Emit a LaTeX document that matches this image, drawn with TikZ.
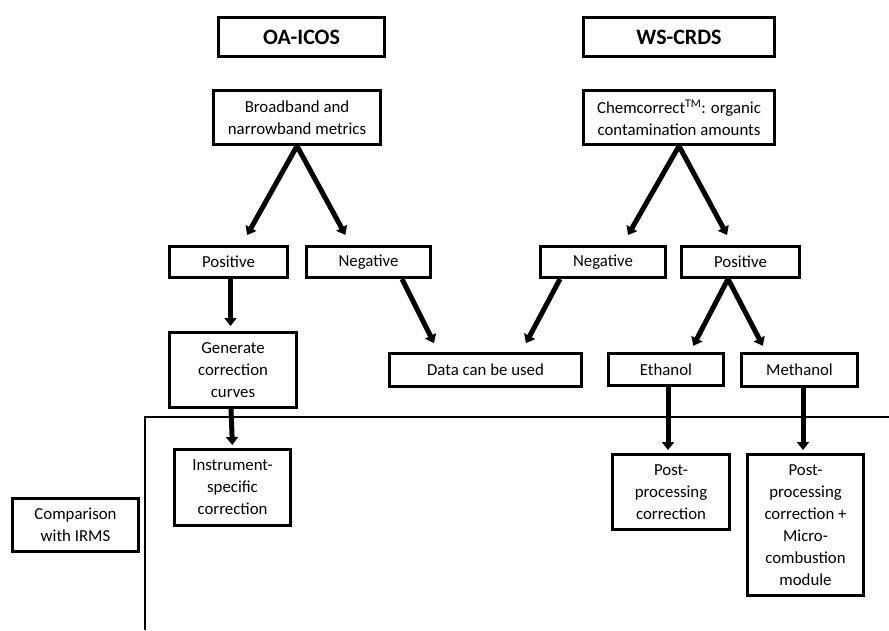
\documentclass[tikz,border=0pt]{standalone}
\usepackage{fontspec}
\setmainfont{Carlito}
\usetikzlibrary{arrows.meta}

\begin{document}
\begin{tikzpicture}[x=1pt, y=-1pt,
  box/.style 2 args={draw, line width=3pt, align=center, inner sep=0pt,
    minimum width=#1, minimum height=#2,
    font=\fontsize{16.8}{22}\selectfont},
  head/.style 2 args={box={#1}{#2}, font=\fontsize{22}{26}\selectfont\bfseries},
  arw/.style={-{Triangle[length=8pt, width=12pt]}, line width=5pt},
]
\useasboundingbox (0,0) rectangle (889,630);

% Instruments
\node[head={166pt}{39pt}] (oa) at (301.5,37) {OA-ICOS};
\node[head={191pt}{39pt}] (ws) at (679,37) {WS-CRDS};

% Contamination metrics
\node[box={167pt}{54pt}] (bb) at (297,117.5) {Broadband and\\narrowband metrics};
\node[box={191pt}{54pt}] (cc) at (679,117.5) {Chemcorrect\textsuperscript{TM}: organic\\contamination amounts};

\node[box={118pt}{31pt}] (oapos) at (228.5,262) {Positive};
\node[box={124pt}{31pt}] (oaneg) at (368.5,262) {Negative};
\node[box={125pt}{31pt}] (wsneg) at (603,262) {Negative};
\node[box={118pt}{31pt}] (wspos) at (740.5,262) {Positive};

\node[box={127pt}{75pt}] (gen) at (233,370) {Generate\\correction\\curves};
\node[box={192pt}{33pt}] (data) at (485.5,370) {Data can be used};
\node[box={115pt}{32pt}] (eth) at (666,369.5) {Ethanol};
\node[box={116pt}{33pt}] (meth) at (799.5,370) {Methanol};

% Corrections
\node[box={116pt}{76pt}] (inst) at (232.5,487.5) {Instrument-\\specific\\correction};
\node[box={117pt}{75pt}] (pp1) at (671,492) {Post-\\processing\\correction};
\node[box={116pt}{141pt}] (pp2) at (805.5,525) {Post-\\processing\\correction +\\Micro-\\combustion\\module};
\node[box={126pt}{53pt}] (comp) at (75.5,525) {Comparison\\with IRMS};

\draw[arw, shorten >=11.5pt] (bb.south) -- ([xshift=13pt]oapos.north);
\draw[arw, shorten >=11.5pt] (bb.south) -- ([xshift=-17.6pt]oaneg.north);
\draw[arw, shorten >=11.5pt] (cc.south) -- ([xshift=19.3pt]wsneg.north);
\draw[arw, shorten >=11.5pt] (cc.south) -- ([xshift=-8pt]wspos.north);

\draw[arw, shorten >=10pt] ([xshift=33.5pt]oaneg.south) -- ([xshift=-47pt]data.north);
\draw[arw, shorten >=10pt] ([xshift=-43pt]wsneg.south) -- ([xshift=35.7pt]data.north);
\draw[arw, shorten >=7pt] ([xshift=-12.5pt]wspos.south) -- ([xshift=24pt]eth.north);
\draw[arw, shorten >=7pt] ([xshift=-12.5pt]wspos.south) -- ([xshift=-33.4pt]meth.north);

\draw[arw, shorten >=5pt] ([xshift=2pt]oapos.south) -- ([xshift=-2.5pt]gen.north);
\draw[arw, shorten >=3pt] ([xshift=-2pt]gen.south) -- (inst.north);
\draw[arw, shorten >=3pt] ([xshift=2pt]eth.south) -- ([xshift=-3pt]pp1.north);
\draw[arw, shorten >=3pt] ([xshift=3.5pt]meth.south) -- ([xshift=-2.5pt]pp2.north);

% Divider
\draw[line width=2.5pt] (889,417) -- (145,417) -- (145,630);
\end{tikzpicture}
\end{document}
